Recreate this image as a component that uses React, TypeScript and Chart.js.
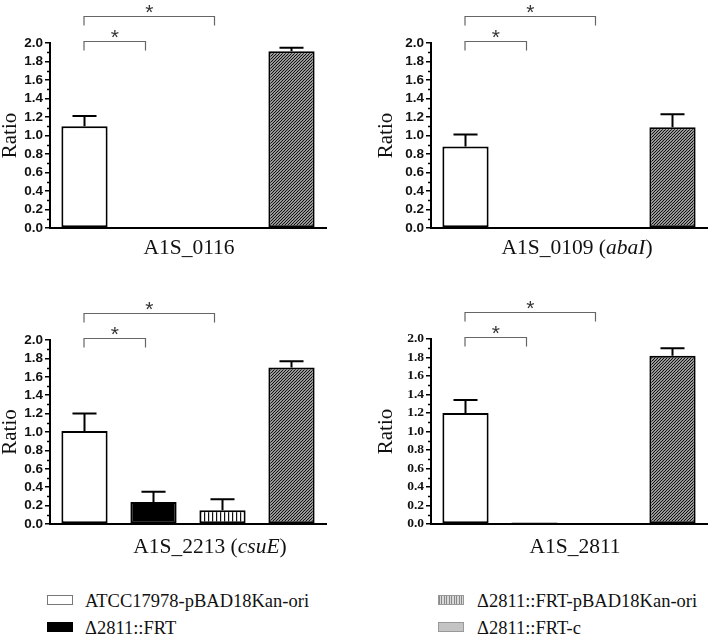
import React, { useEffect, useRef } from "react";
import { Chart, registerables } from "chart.js";
Chart.register(...registerables);

// ---- data ----
const strains = [
  "ATCC17978-pBAD18Kan-ori",
  "Δ2811::FRT",
  "Δ2811::FRT-pBAD18Kan-ori",
  "Δ2811::FRT-c",
];
const genes = ["A1S_0116", "A1S_0109", "A1S_2213", "A1S_2811"];
const geneSymbols = ["", "abaI", "csuE", ""];

const ratio0116 = [1.1, 0, 0, 1.91];
const err0116 = [0.11, 0, 0, 0.04];
const ratio0109 = [0.88, 0.01, 0, 1.09];
const err0109 = [0.13, 0, 0, 0.14];
const ratio2213 = [1.01, 0.24, 0.15, 1.7];
const err2213 = [0.19, 0.11, 0.12, 0.07];
const ratio2811 = [1.2, 0.015, 0.008, 1.82];
const err2811 = [0.14, 0, 0, 0.08];

const yMin = 0;
const yMax = 2;
const yStep = 0.2;
const yTitle = "Ratio";
const sigPairs = [
  [0, 1],
  [0, 2],
];
const sigMark = "*";

const panelValues = [ratio0116, ratio0109, ratio2213, ratio2811];
const panelErrors = [err0116, err0109, err2213, err2811];

// ---- layout (positions/styles only) ----
const SERIF = '"Liberation Serif", "Times New Roman", serif';
const SANS = '"Liberation Sans", Arial, sans-serif';

const layouts = [
  { left: 0, top: 0, w: 340, h: 275, axisX: 50, areaRight: 326, areaTop: 43, areaBottom: 228, titleX: 10.5, labelX: 189, labelY: 248, tickFamily: SANS },
  { left: 360, top: 0, w: 349, h: 275, axisX: 71, areaRight: 347, areaTop: 43, areaBottom: 228, titleX: 26, labelX: 217, labelY: 248, tickFamily: SANS },
  { left: 0, top: 290, w: 340, h: 285, axisX: 50, areaRight: 326, areaTop: 50, areaBottom: 234, titleX: 10.5, labelX: 210, labelY: 257, tickFamily: SANS },
  { left: 360, top: 290, w: 349, h: 285, axisX: 71, areaRight: 347, areaTop: 49, areaBottom: 234, titleX: 26, labelX: 215, labelY: 257, tickFamily: SERIF },
];

function makeHatch(): CanvasPattern | string {
  const n = 3;
  const c = document.createElement("canvas");
  c.width = n;
  c.height = n;
  const g = c.getContext("2d");
  if (!g) return "#888";
  g.fillStyle = "#fff";
  g.fillRect(0, 0, n, n);
  g.strokeStyle = "#111";
  g.lineWidth = 1.25;
  g.beginPath();
  g.moveTo(0, n);
  g.lineTo(n, 0);
  g.moveTo(-1, 1);
  g.lineTo(1, -1);
  g.moveTo(n - 1, n + 1);
  g.lineTo(n + 1, n - 1);
  g.stroke();
  return g.createPattern(c, "repeat") || "#888";
}

function makeStripes(): CanvasPattern | string {
  const c = document.createElement("canvas");
  c.width = 4;
  c.height = 4;
  const g = c.getContext("2d");
  if (!g) return "#888";
  g.fillStyle = "#fff";
  g.fillRect(0, 0, 4, 4);
  g.fillStyle = "#111";
  g.fillRect(0, 0, 1.2, 4);
  return g.createPattern(c, "repeat") || "#888";
}

function Panel({ idx }: { idx: number }) {
  const ref = useRef<HTMLCanvasElement>(null);
  const L = layouts[idx];
  useEffect(() => {
    if (!ref.current) return;
    const values = panelValues[idx];
    const errors = panelErrors[idx];
    const fills: any[] = ["#ffffff", "#000000", makeStripes(), makeHatch()];

    const overlay = {
      id: "overlay" + idx,
      afterDatasetsDraw(chart: any) {
        const ctx = chart.ctx;
        const ys = chart.scales.y;
        ctx.save();
        ctx.strokeStyle = "#000";
        ctx.lineWidth = 2;
        values.forEach((v, i) => {
          const e = errors[i];
          if (!e) return;
          const el = chart.getDatasetMeta(i).data[0];
          const x = el.x;
          const y0 = ys.getPixelForValue(v);
          const y1 = ys.getPixelForValue(v + e);
          const half = el.width * 0.26;
          ctx.beginPath();
          ctx.moveTo(x, y0);
          ctx.lineTo(x, y1);
          ctx.moveTo(x - half, y1);
          ctx.lineTo(x + half, y1);
          ctx.stroke();
        });
        ctx.restore();
      },
      afterDraw(chart: any) {
        const ctx = chart.ctx;
        const ys = chart.scales.y;
        const area = chart.chartArea;
        ctx.save();
        // minor ticks
        ctx.strokeStyle = "#000";
        ctx.lineWidth = 1.5;
        for (let v = yMin + yStep / 2; v < yMax; v += yStep) {
          const y = Math.round(ys.getPixelForValue(v)) + 0.5;
          ctx.beginPath();
          ctx.moveTo(area.left - 3, y);
          ctx.lineTo(area.left, y);
          ctx.stroke();
        }
        // significance brackets
        sigPairs.forEach((p, k) => {
          const a = chart.getDatasetMeta(p[0]).data[0];
          const b = chart.getDatasetMeta(p[1]).data[0];
          const xl = a.x - 0.5;
          const xr = b.x - 8;
          const y = Math.round(area.top - 2.5 - k * 24.5) + 0.5;
          ctx.strokeStyle = "#666";
          ctx.lineWidth = 1.2;
          ctx.beginPath();
          ctx.moveTo(xl, y + 9);
          ctx.lineTo(xl, y);
          ctx.lineTo(xr, y);
          ctx.lineTo(xr, y + 9);
          ctx.stroke();
          ctx.fillStyle = "#333";
          ctx.font = "21px " + SANS;
          ctx.textAlign = "center";
          ctx.textBaseline = "alphabetic";
          ctx.fillText(sigMark, (xl + xr) / 2, y + 2);
        });
        // category label (gene name, italic symbol)
        const gene = genes[idx];
        const sym = geneSymbols[idx];
        const size = 21.5;
        const normal = size + "px " + SERIF;
        const italic = "italic " + size + "px " + SERIF;
        const parts: [string, string][] = sym
          ? [[gene + " (", normal], [sym, italic], [")", normal]]
          : [[gene, normal]];
        let total = 0;
        parts.forEach(([t, f]) => {
          ctx.font = f;
          total += ctx.measureText(t).width;
        });
        let x = L.labelX - total / 2;
        ctx.fillStyle = "#111";
        ctx.textAlign = "left";
        ctx.textBaseline = "middle";
        parts.forEach(([t, f]) => {
          ctx.font = f;
          ctx.fillText(t, x, L.labelY);
          x += ctx.measureText(t).width;
        });
        ctx.restore();
      },
    };

    const chart = new Chart(ref.current, {
      type: "bar",
      data: {
        labels: [genes[idx]],
        datasets: strains.map((s, i) => ({
          label: s,
          data: [values[i]],
          backgroundColor: fills[i],
          borderColor: "#000",
          borderWidth: 2,
          borderSkipped: false,
          barPercentage: 0.67,
          categoryPercentage: 1.0,
        })),
      },
      options: {
        responsive: false,
        animation: false,
        events: [],
        layout: { padding: { top: L.areaTop, right: L.w - L.areaRight, left: 0, bottom: 0 } },
        plugins: { legend: { display: false }, tooltip: { enabled: false } },
        scales: {
          x: {
            grid: { display: false, drawTicks: false },
            ticks: { display: false },
            border: { color: "#000", width: 2 },
            afterFit: (s: any) => {
              s.height = L.h - L.areaBottom;
            },
          },
          y: {
            min: yMin,
            max: yMax,
            ticks: {
              stepSize: yStep,
              autoSkip: false,
              callback: (v: any) => Number(v).toFixed(1),
              color: "#111",
              padding: 2,
              font: { family: L.tickFamily, size: 13.5, weight: "bold", lineHeight: 1 },
            },
            grid: { drawOnChartArea: false, drawTicks: true, tickLength: 5, color: "#000", lineWidth: 1.5 },
            border: { color: "#000", width: 2 },
            title: {
              display: true,
              text: yTitle,
              color: "#111",
              font: { family: SERIF, size: 21, lineHeight: 1 },
              padding: { top: L.titleX - 10.5, bottom: 0 },
            },
            afterFit: (s: any) => {
              s.width = L.axisX;
            },
          },
        },
      } as any,
      plugins: [overlay],
    });
    return () => chart.destroy();
  }, [idx]);
  return (
    <canvas
      ref={ref}
      width={L.w}
      height={L.h}
      style={{ position: "absolute", left: L.left, top: L.top, width: L.w, height: L.h }}
    />
  );
}

const swatchStyles: React.CSSProperties[] = [
  { background: "#fff", border: "1px solid #777" },
  { background: "#000", border: "1px solid #000" },
  { background: "repeating-linear-gradient(90deg, #8a8a8a 0px, #8a8a8a 1px, #d8d8d8 1px, #d8d8d8 2.5px)", border: "1px solid #999" },
  { background: "#c4c4c4", border: "1px solid #999" },
];
const legendPos = [
  { sx: 47, tx: 85, cy: 601 },
  { sx: 47, tx: 85, cy: 628 },
  { sx: 438, tx: 477, cy: 601 },
  { sx: 438, tx: 477, cy: 628 },
];

export default function App() {
  return (
    <div style={{ position: "absolute", left: 0, top: 0, width: 709, height: 640, background: "#fff", overflow: "hidden" }}>
      {[0, 1, 2, 3].map((i) => (
        <Panel key={i} idx={i} />
      ))}
      {strains.map((s, i) => (
        <React.Fragment key={s}>
          <div
            style={{
              position: "absolute",
              left: legendPos[i].sx,
              top: legendPos[i].cy - 6,
              width: 26,
              height: 10,
              boxSizing: "border-box",
              ...swatchStyles[i],
            }}
          />
          <div
            style={{
              position: "absolute",
              left: legendPos[i].tx,
              top: legendPos[i].cy - 12,
              height: 24,
              lineHeight: "24px",
              fontFamily: SERIF,
              fontSize: 18.5,
              color: "#111",
              whiteSpace: "nowrap",
            }}
          >
            {s}
          </div>
        </React.Fragment>
      ))}
    </div>
  );
}
